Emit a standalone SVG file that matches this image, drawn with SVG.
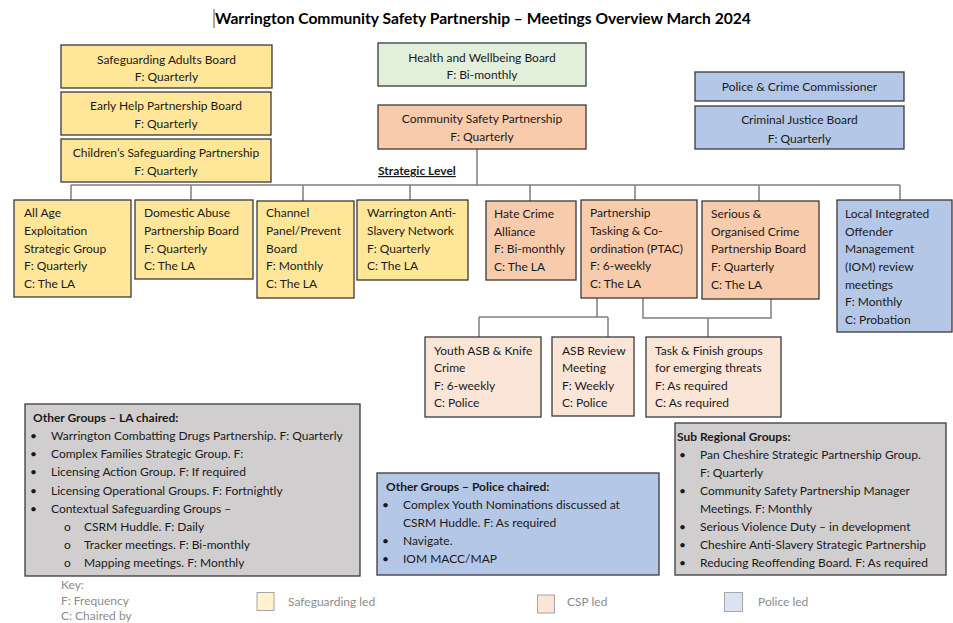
<svg xmlns="http://www.w3.org/2000/svg" width="953" height="623" viewBox="0 0 953 623">
<defs>
<style>
text{font-family:Lato,"Liberation Sans",sans-serif;font-size:12px;fill:#1a1a1a}
.c{text-anchor:middle}
.b{font-weight:bold}
.title{font-size:15.6px;font-weight:bold;fill:#000}
.box{stroke:#3a3a3a;stroke-width:1.3}
.sg{fill:#FFE699}
.csp{fill:#F8CBAD}
.cspl{fill:#FBE5D6}
.pol{fill:#B4C7E7}
.hw{fill:#E2EFDA}
.grey{fill:#D0CECE}
.conn{fill:none;stroke:#7f7f7f;stroke-width:1.5}
.key{fill:#8c8c8c}
.sw{stroke:#a6a6a6;stroke-width:1}
</style>
</defs>
<rect width="953" height="623" fill="#fff"/>
<line x1="214" y1="9" x2="214" y2="28" stroke="#555" stroke-width="1"/>
<text class="title" x="215" y="24">Warrington Community Safety Partnership – Meetings Overview March 2024</text>

<g id="connectors" class="conn">
<path d="M477 149V185M71 185H900M71 185V200M191 185V200M303 185V201M410 185V200M530 185V201M635 185V200M759 185V201M900 185V200"/>
<path d="M597 298V317M479 317H608M479 317V337M608 317V337"/>
<path d="M643 298V318H771V299M708 318V337"/>
</g>

<g id="n-sab"><rect class="box sg" x="61" y="45" width="211" height="43"/><text class="c" x="166.5" y="64">Safeguarding Adults Board</text><text class="c" x="166.5" y="81">F: Quarterly</text></g>
<g id="n-ehpb"><rect class="box sg" x="61" y="92" width="210" height="43"/><text class="c" x="166" y="110">Early Help Partnership Board</text><text class="c" x="166" y="128">F: Quarterly</text></g>
<g id="n-cspship"><rect class="box sg" x="61" y="139" width="210" height="43"/><text class="c" x="166" y="157">Children’s Safeguarding Partnership</text><text class="c" x="166" y="175">F: Quarterly</text></g>

<g id="n-hwb"><rect class="box hw" x="378" y="43" width="208" height="43"/><text class="c" x="482" y="62">Health and Wellbeing Board</text><text class="c" x="482" y="79">F: Bi-monthly</text></g>
<g id="n-csp"><rect class="box csp" x="378" y="105" width="208" height="44"/><text class="c" x="482" y="123">Community Safety Partnership</text><text class="c" x="482" y="141">F: Quarterly</text></g>
<g id="n-pcc"><rect class="box pol" x="695" y="72" width="209" height="29"/><text class="c" x="799.5" y="91">Police &amp; Crime Commissioner</text></g>
<g id="n-cjb"><rect class="box pol" x="695" y="106" width="209" height="43"/><text class="c" x="799.5" y="124">Criminal Justice Board</text><text class="c" x="799.5" y="143">F: Quarterly</text></g>

<text class="b" x="378" y="175" text-decoration="underline">Strategic Level</text>

<g id="n-aaesg"><rect class="box sg" x="14" y="200" width="117" height="97"/>
<text x="24" y="217">All Age</text><text x="24" y="235">Exploitation</text><text x="24" y="253">Strategic Group</text><text x="24" y="270">F: Quarterly</text><text x="24" y="288">C: The LA</text></g>
<g id="n-dapb"><rect class="box sg" x="135" y="200" width="118" height="79"/>
<text x="144" y="217">Domestic Abuse</text><text x="144" y="235">Partnership Board</text><text x="144" y="253">F: Quarterly</text><text x="144" y="270">C: The LA</text></g>
<g id="n-channel"><rect class="box sg" x="257" y="201" width="97" height="97"/>
<text x="266" y="217">Channel</text><text x="266" y="235">Panel/Prevent</text><text x="266" y="253">Board</text><text x="266" y="270">F: Monthly</text><text x="266" y="288">C: The LA</text></g>
<g id="n-wasn"><rect class="box sg" x="357" y="200" width="111" height="80"/>
<text x="367" y="217">Warrington Anti-</text><text x="367" y="235">Slavery Network</text><text x="367" y="253">F: Quarterly</text><text x="367" y="270">C: The LA</text></g>
<g id="n-hca"><rect class="box csp" x="486" y="201" width="90" height="79"/>
<text x="494" y="218">Hate Crime</text><text x="494" y="236">Alliance</text><text x="494" y="253">F: Bi-monthly</text><text x="494" y="271">C: The LA</text></g>
<g id="n-ptac"><rect class="box csp" x="581" y="200" width="116" height="98"/>
<text x="590" y="217">Partnership</text><text x="590" y="235">Tasking &amp; Co-</text><text x="590" y="253">ordination (PTAC)</text><text x="590" y="270">F: 6-weekly</text><text x="590" y="288">C: The LA</text></g>
<g id="n-socpb"><rect class="box csp" x="702" y="201" width="117" height="98"/>
<text x="711" y="218">Serious &amp;</text><text x="711" y="236">Organised Crime</text><text x="711" y="253">Partnership Board</text><text x="711" y="271">F: Quarterly</text><text x="711" y="289">C: The LA</text></g>
<g id="n-iom"><rect class="box pol" x="837" y="200" width="115" height="132"/>
<text x="845" y="218">Local Integrated</text><text x="845" y="236">Offender</text><text x="845" y="253">Management</text><text x="845" y="271">(IOM) review</text><text x="845" y="289">meetings</text><text x="845" y="306">F: Monthly</text><text x="845" y="324">C: Probation</text></g>

<g id="n-youth"><rect class="box cspl" x="425" y="337" width="116" height="80"/>
<text x="434" y="355">Youth ASB &amp; Knife</text><text x="434" y="372">Crime</text><text x="434" y="390">F: 6-weekly</text><text x="434" y="407">C: Police</text></g>
<g id="n-asb"><rect class="box cspl" x="552" y="337" width="82" height="79"/>
<text x="562" y="355">ASB Review</text><text x="562" y="372">Meeting</text><text x="562" y="390">F: Weekly</text><text x="562" y="407">C: Police</text></g>
<g id="n-taskfinish"><rect class="box cspl" x="646" y="337" width="135" height="80"/>
<text x="655" y="355">Task &amp; Finish groups</text><text x="655" y="372">for emerging threats</text><text x="655" y="390">F: As required</text><text x="655" y="407">C: As required</text></g>

<g id="n-la-groups"><rect class="box grey" x="25" y="404" width="335" height="172"/>
<text class="b" x="33" y="422">Other Groups – LA chaired:</text>
<text x="30" y="440">•</text><text x="51" y="440">Warrington Combatting Drugs Partnership. F: Quarterly</text>
<text x="30" y="458">•</text><text x="51" y="458">Complex Families Strategic Group. F:</text>
<text x="30" y="476">•</text><text x="51" y="476">Licensing Action Group. F: If required</text>
<text x="30" y="495">•</text><text x="51" y="495">Licensing Operational Groups. F: Fortnightly</text>
<text x="30" y="513">•</text><text x="51" y="513">Contextual Safeguarding Groups –</text>
<text x="64" y="531">o</text><text x="84" y="531">CSRM Huddle. F: Daily</text>
<text x="64" y="549">o</text><text x="84" y="549">Tracker meetings. F: Bi-monthly</text>
<text x="64" y="567">o</text><text x="84" y="567">Mapping meetings. F: Monthly</text>
</g>

<g id="n-police-groups"><rect class="box pol" x="377" y="473" width="282" height="102"/>
<text class="b" x="386" y="491">Other Groups – Police chaired:</text>
<text x="382" y="509">•</text><text x="403" y="509">Complex Youth Nominations discussed at</text>
<text x="403" y="527">CSRM Huddle. F: As required</text>
<text x="382" y="545">•</text><text x="403" y="545">Navigate.</text>
<text x="382" y="563">•</text><text x="403" y="563">IOM MACC/MAP</text>
</g>

<g id="n-subregional"><rect class="box grey" x="675" y="423" width="271" height="152"/>
<text class="b" x="677" y="441">Sub Regional Groups:</text>
<text x="679" y="459">•</text><text x="700" y="459">Pan Cheshire Strategic Partnership Group.</text>
<text x="700" y="477">F: Quarterly</text>
<text x="679" y="495">•</text><text x="700" y="495">Community Safety Partnership Manager</text>
<text x="700" y="513">Meetings. F: Monthly</text>
<text x="679" y="531">•</text><text x="700" y="531">Serious Violence Duty – in development</text>
<text x="679" y="549">•</text><text x="700" y="549">Cheshire Anti-Slavery Strategic Partnership</text>
<text x="679" y="567">•</text><text x="700" y="567">Reducing Reoffending Board. F: As required</text>
</g>

<g id="key">
<text class="key" x="61" y="589">Key:</text>
<text class="key" x="61" y="605">F: Frequency</text>
<text class="key" x="61" y="620">C: Chaired by</text>
<rect class="sw" x="257" y="592.5" width="17" height="18" fill="#FFF2CC"/>
<text class="key" x="288" y="606">Safeguarding led</text>
<rect class="sw" x="537.5" y="595" width="17" height="18" fill="#FBE5D6"/>
<text class="key" x="567" y="606">CSP led</text>
<rect class="sw" x="724.5" y="592.5" width="18" height="19" fill="#DAE3F3"/>
<text class="key" x="758" y="606">Police led</text>
</g>
</svg>
